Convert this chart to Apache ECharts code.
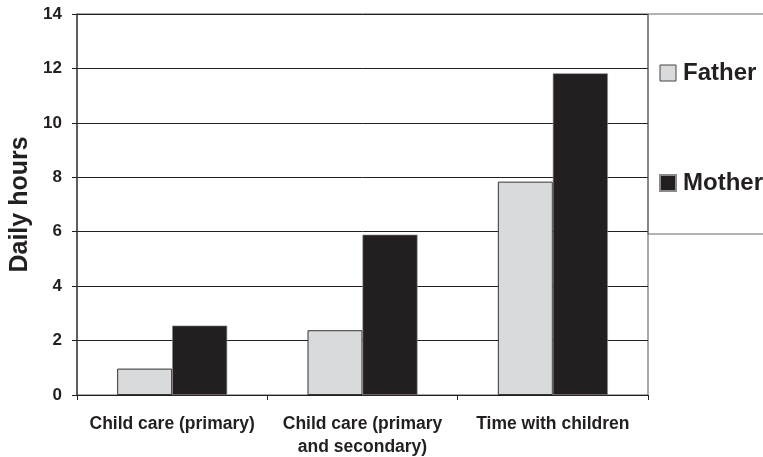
<!DOCTYPE html>
<html>
<head>
<meta charset="utf-8">
<script src="https://cdn.jsdelivr.net/npm/echarts@6/dist/echarts.min.js"></script>
<style>
  html, body { margin: 0; padding: 0; background: #fff; }
  #chart { width: 763px; height: 457px; }
</style>
</head>
<body>
<div id="chart"></div>
<script>
// Daily hours spent on children, by parent
const categories = ['Child care (primary)', 'Child care (primary\nand secondary)', 'Time with children'];
const fatherHours = [0.97, 2.38, 7.84];
const motherHours = [2.55, 5.89, 11.82];
const yTicks = { min: 0, max: 14, interval: 2 };

const ink = '#231f20';
const font = '"Liberation Sans", Arial, sans-serif';

const chart = echarts.init(document.getElementById('chart'), null, { renderer: 'canvas' });

chart.setOption({
  backgroundColor: '#fff',
  animation: false,
  textStyle: { fontFamily: font, color: ink },
  grid: {
    left: 77, right: 115, top: 14, bottom: 62,
    outerBoundsMode: 'none',
    show: true, borderColor: '#555', borderWidth: 1, backgroundColor: 'transparent'
  },
  legend: {
    orient: 'vertical',
    left: 648, top: 14,
    padding: [47, 40, 39, 11],
    itemGap: 86,
    itemWidth: 16, itemHeight: 16,
    icon: 'rect',
    borderColor: '#666', borderWidth: 1,
    textStyle: { fontFamily: font, fontWeight: 'bold', fontSize: 24, color: ink, padding: [0, 0, 0, 2] },
    data: [
      { name: 'Father', itemStyle: { color: '#d9dadc', borderColor: '#444', borderWidth: 1 } },
      { name: 'Mother', itemStyle: { color: ink } }
    ]
  },
  xAxis: {
    type: 'category',
    data: categories,
    axisLine: { lineStyle: { color: ink, width: 1 } },
    axisTick: { show: true, length: 5, alignWithLabel: false, lineStyle: { color: ink } },
    axisLabel: {
      margin: 18, fontFamily: font, fontWeight: 'bold', fontSize: 17.5, color: ink,
      lineHeight: 23, interval: 0
    }
  },
  yAxis: {
    type: 'value',
    min: yTicks.min, max: yTicks.max, interval: yTicks.interval,
    name: 'Daily hours',
    nameLocation: 'middle',
    nameGap: 41,
    nameTextStyle: { fontFamily: font, fontWeight: 'bold', fontSize: 25, color: ink },
    axisLine: { show: true, lineStyle: { color: '#444', width: 1.5 } },
    axisTick: { show: true, length: 5, lineStyle: { color: ink } },
    axisLabel: { margin: 15, fontFamily: font, fontWeight: 'bold', fontSize: 17, color: ink },
    splitLine: { show: true, lineStyle: { color: ink, width: 1 } }
  },
  series: [
    {
      name: 'Father', type: 'bar', data: fatherHours,
      barWidth: 55, barGap: '0%',
      itemStyle: { color: '#d9dadc', borderColor: '#333', borderWidth: 1 }
    },
    {
      name: 'Mother', type: 'bar', data: motherHours,
      barWidth: 55,
      itemStyle: { color: ink, borderColor: '#8a8a8a', borderWidth: 0.6 }
    }
  ]
});
</script>
</body>
</html>
